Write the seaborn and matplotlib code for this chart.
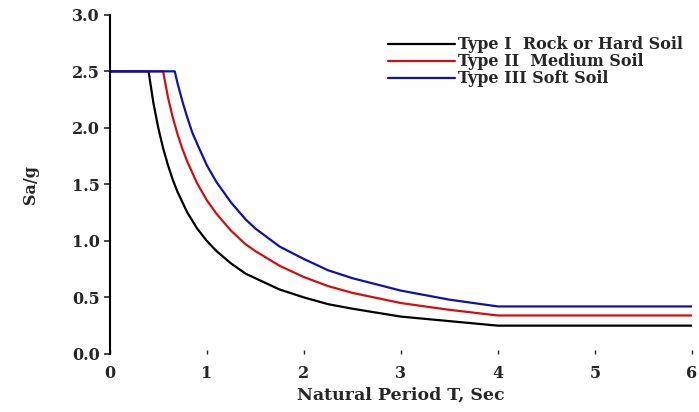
import pandas as pd
import matplotlib
matplotlib.use('Agg')
import matplotlib.pyplot as plt
import seaborn as sns

# Values (Sa/g vs natural period T)
t_type1 = [0.0, 0.4, 0.45, 0.5, 0.55, 0.6, 0.65, 0.7, 0.8, 0.9, 1.0, 1.1, 1.25, 1.4, 1.5, 1.75, 2.0, 2.25,
           2.5, 3.0, 3.5, 4.0, 4.0, 6.0]
sa_type1 = [2.5, 2.5, 2.22, 2.0, 1.82, 1.67, 1.54, 1.43, 1.25, 1.11, 1.0, 0.91, 0.8, 0.71, 0.67, 0.57, 0.5, 0.44,
            0.4, 0.33, 0.29, 0.25, 0.25, 0.25]

t_type2 = [0.0, 0.55, 0.6, 0.65, 0.7, 0.75, 0.8, 0.9, 1.0, 1.1, 1.25, 1.4, 1.5, 1.75, 2.0, 2.25, 2.5, 3.0,
           3.5, 4.0, 6.0]
sa_type2 = [2.5, 2.5, 2.27, 2.09, 1.94, 1.81, 1.70, 1.51, 1.36, 1.24, 1.09, 0.97, 0.91, 0.78, 0.68, 0.60, 0.54, 0.45,
            0.39, 0.34, 0.34]

t_type3 = [0.0, 0.67, 0.7, 0.75, 0.8, 0.85, 0.9, 1.0, 1.1, 1.25, 1.4, 1.5, 1.75, 2.0, 2.25, 2.5, 3.0, 3.5,
           4.0, 6.0]
sa_type3 = [2.5, 2.5, 2.39, 2.23, 2.09, 1.96, 1.86, 1.67, 1.52, 1.34, 1.19, 1.11, 0.95, 0.84, 0.74, 0.67, 0.56, 0.48,
            0.42, 0.42]

labels = ['Type I  Rock or Hard Soil', 'Type II  Medium Soil', 'Type III Soft Soil']
colors = ['black', '#d01010', '#1010b0']

frames = []
for t, sa, lab in zip([t_type1, t_type2, t_type3], [sa_type1, sa_type2, sa_type3], labels):
    frames.append(pd.DataFrame({'T': t, 'Sa': sa, 'Soil': lab}))
data = pd.concat(frames, ignore_index=True)

sns.set_style('white')
plt.rcParams['font.family'] = ['DejaVu Serif']
plt.rcParams['font.weight'] = 'bold'

fig = plt.figure(figsize=(6.99, 4.12), dpi=100)
ax = fig.add_axes([0.157, 0.141, 0.833, 0.823])

sns.lineplot(data=data, x='T', y='Sa', hue='Soil', palette=colors,
             sort=False, estimator=None, linewidth=1.6, ax=ax)

ax.set_xlim(0, 6)
ax.set_ylim(0, 3)
ax.set_xticks(range(0, 7))
ax.set_yticks([0, 0.5, 1.0, 1.5, 2.0, 2.5, 3.0])
ax.set_yticklabels(['0.0', '0.5', '1.0', '1.5', '2.0', '2.5', '3.0'])
ax.tick_params(axis='y', direction='out', length=4, width=1.2, labelsize=11.5, left=True, pad=3)
ax.tick_params(axis='x', direction='in', length=3, width=1, labelsize=11.5, bottom=True, pad=8)
for lab in ax.get_xticklabels() + ax.get_yticklabels():
    lab.set_fontweight('bold')

for side in ['top', 'right', 'bottom']:
    ax.spines[side].set_visible(False)
ax.spines['left'].set_linewidth(1.5)
ax.spines['left'].set_color('black')

ax.set_xlabel('Natural Period T, Sec', fontsize=12.5, fontweight='bold', labelpad=3)
ax.set_ylabel('Sa/g', fontsize=11.5, fontweight='bold', labelpad=24)

leg = ax.legend(loc='upper right', bbox_to_anchor=(0.995, 0.955), frameon=False,
                fontsize=11.5, handlelength=4.2, handletextpad=0.15, labelspacing=0.0,
                borderaxespad=0.0)
for txt in leg.get_texts():
    txt.set_fontweight('bold')

fig.savefig('out.png', dpi=100)
